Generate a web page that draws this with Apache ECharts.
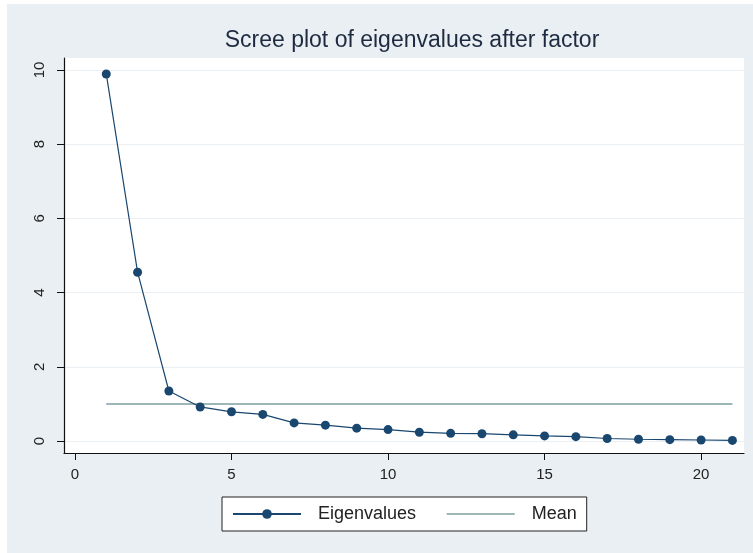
<!DOCTYPE html>
<html>
<head>
<meta charset="utf-8">
<script src="https://cdn.jsdelivr.net/npm/echarts@6/dist/echarts.min.js"></script>
<style>
  html, body { margin: 0; padding: 0; background: #fff; }
  #chart { width: 753px; height: 553px; }
</style>
</head>
<body>
<div id="chart"></div>
<script>
// eigenvalues
var factors = [1, 2, 3, 4, 5, 6, 7, 8, 9, 10, 11, 12, 13, 14, 15, 16, 17, 18, 19, 20, 21]
var eigenvalues = [9.89, 4.55, 1.35, 0.92, 0.79, 0.72, 0.49, 0.43, 0.35, 0.31, 0.24, 0.21, 0.2, 0.17, 0.14, 0.12, 0.07, 0.05, 0.04, 0.03, 0.02]
var meanValue = 1
var xTicks = [0, 5, 10, 15, 20]
var yTicks = [0, 2, 4, 6, 8, 10]

var myChart = echarts.init(document.getElementById('chart'))

var font = 'Liberation Sans, Arial, sans-serif'
var navy = '#1a476f'
var meanColor = '#3d6e70'

var option = {
  animation: false,
  graphic: [
    {
      type: 'rect',
      z: -10,
      shape: { x: 7, y: 4, width: 746, height: 549 },
      style: { fill: '#e9eff2' }
    }
  ],
  title: {
    text: 'Scree plot of eigenvalues after factor',
    left: 407,
    top: 24,
    textAlign: 'center',
    textStyle: {
      color: '#1e2b40',
      fontFamily: font,
      fontWeight: 'normal',
      fontSize: 23
    }
  },
  legend: {
    left: 222,
    top: 497,
    padding: [8, 10, 8, 10],
    borderColor: '#222',
    borderWidth: 1,
    backgroundColor: '#fff',
    borderRadius: 0,
    itemWidth: 68,
    itemHeight: 12,
    itemGap: 30,
    textStyle: {
      color: '#222',
      fontFamily: font,
      fontSize: 18,
      padding: [0, 0, 0, 12]
    },
    data: [
      { name: 'Eigenvalues' },
      { name: 'Mean', itemStyle: { opacity: 0 }, lineStyle: { color: meanColor, width: 1.2, opacity: 1 } }
    ]
  },
  grid: {
    left: 64,
    right: 9,
    top: 58,
    bottom: 100,
    show: true,
    backgroundColor: '#fff',
    borderWidth: 0
  },
  xAxis: {
    type: 'value',
    min: -0.35,
    max: 21.37,
    axisLine: { onZero: false, lineStyle: { color: '#111', width: 1.2 } },
    axisTick: { show: true, length: 7, customValues: xTicks, lineStyle: { color: '#111' } },
    axisLabel: {
      customValues: xTicks,
      margin: 14,
      color: '#222',
      fontFamily: font,
      fontSize: 15
    },
    splitLine: { show: false }
  },
  yAxis: {
    type: 'value',
    min: -0.32,
    max: 10.32,
    axisLine: { show: true, onZero: false, lineStyle: { color: '#111', width: 1.2 } },
    axisTick: { show: true, length: 7, customValues: yTicks, lineStyle: { color: '#111' } },
    axisLabel: {
      customValues: yTicks,
      rotate: 90,
      margin: 17,
      color: '#222',
      fontFamily: font,
      fontSize: 15
    },
    splitLine: { show: true, lineStyle: { color: '#eaeff3', width: 1 } }
  },
  series: [
    {
      name: 'Mean',
      type: 'line',
      symbol: 'none',
      lineStyle: { color: meanColor, width: 1.2 },
      itemStyle: { color: meanColor },
      data: [[factors[0], meanValue], [factors[factors.length - 1], meanValue]]
    },
    {
      name: 'Eigenvalues',
      type: 'line',
      symbol: 'circle',
      symbolSize: 9,
      lineStyle: { color: navy, width: 1.2 },
      itemStyle: { color: navy },
      data: factors.map(function (f, i) { return [f, eigenvalues[i]] })
    }
  ]
}

myChart.setOption(option)
</script>
</body>
</html>
